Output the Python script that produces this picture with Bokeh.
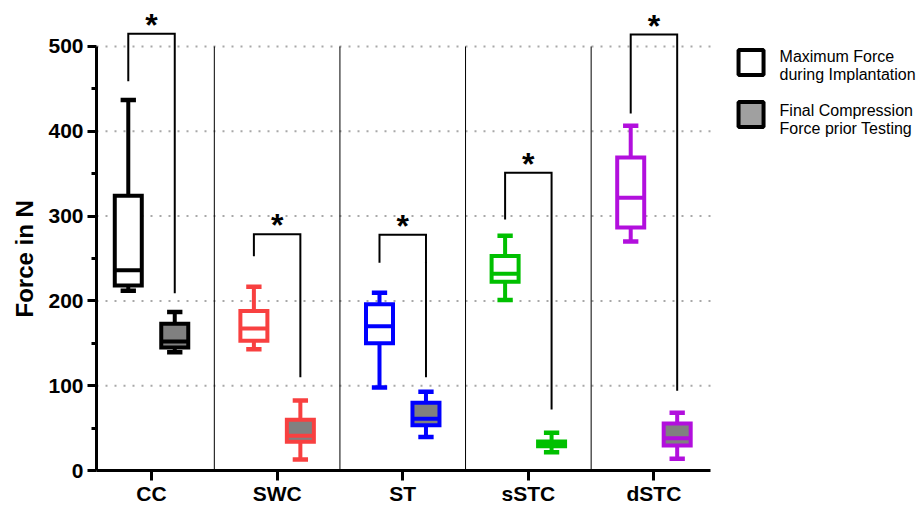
import numpy as np
from bokeh.plotting import figure
from bokeh.models import Range1d, FixedTicker, ColumnDataSource, Title
from bokeh.core.properties import value
from bokeh.embed import file_html
from bokeh.resources import INLINE

# ---------------- data ----------------
categories = ["CC", "SWC", "ST", "sSTC", "dSTC"]
colors = ["#000000", "#F84040", "#0000FF", "#00C000", "#B20FDD"]

# Maximum Force during Implantation
max_low = [212, 143, 98, 201, 270]
max_q1 = [218, 153, 150, 222.5, 286.6]
max_med = [236, 167.5, 170, 232, 321.6]
max_q3 = [324, 188, 196, 253, 369]
max_high = [437, 216.6, 209.5, 276.7, 406.4]

# Final Compression Force prior Testing
fin_low = [139.5, 13, 39.6, 21.6, 13.8]
fin_q1 = [145, 33.8, 53.5, 28.7, 29.5]
fin_med = [152, 41, 61, 31.4, 38]
fin_q3 = [173, 59.8, 80, 34.2, 55.4]
fin_high = [187, 82.5, 92.8, 44.4, 68]

# significance brackets
bracket_top = [515, 278.7, 278, 351, 514]
bracket_left_end = [459, 252.7, 245, 296, 421]
bracket_right_end = [209, 110, 110, 72, 94]
sig_labels = ["*", "*", "*", "*", "*"]

y_ticks = [0, 100, 200, 300, 400, 500]
y_minor = [50, 150, 250, 350, 450]
legend_labels = [["Maximum Force", "during Implantation"],
                 ["Final Compression", "Force prior Testing"]]

FONT = "Liberation Sans"
X0, X1 = -0.438, 6.138
pos = np.arange(len(categories), dtype=float)
OFF = 0.185
HW = 0.1075
CW = 0.061
LW = 4

p = figure(width=922, height=507, x_range=Range1d(X0, X1), y_range=Range1d(0, 554.2),
           output_backend="svg", toolbar_location=None,
           min_border_left=96, min_border_right=0, min_border_top=0, min_border_bottom=37)
p.outline_line_color = None
p.xgrid.visible = False
p.ygrid.visible = False
p.background_fill_color = "white"

# dotted grid
gy = y_ticks[1:]
p.segment(x0=[X0] * len(gy), y0=gy, x1=[4.5] * len(gy), y1=gy,
          line_color="#a8a8a8", line_width=2, line_dash="2 7")

# separators between groups
sep = list(pos[:-1] + 0.5)
p.segment(x0=sep, y0=[0] * len(sep), x1=sep, y1=[500] * len(sep),
          line_color="black", line_width=1)


def draw(xc, low, q1, med, q3, high, fill):
    src = ColumnDataSource(dict(x=xc, low=low, q1=q1, med=med, q3=q3, high=high,
                                l=xc - HW, r=xc + HW, cl=xc - CW, cr=xc + CW, c=colors))
    p.segment(x0="x", y0="q3", x1="x", y1="high", line_color="c", line_width=LW, source=src)
    p.segment(x0="x", y0="q1", x1="x", y1="low", line_color="c", line_width=LW, source=src)
    p.segment(x0="cl", y0="high", x1="cr", y1="high", line_color="c", line_width=4.5, source=src)
    p.segment(x0="cl", y0="low", x1="cr", y1="low", line_color="c", line_width=4.5, source=src)
    p.quad(left="l", right="r", top="q3", bottom="q1", fill_color=fill, line_color="c",
           line_width=LW, line_join="miter", source=src)
    p.segment(x0="l", y0="med", x1="r", y1="med", line_color="c", line_width=LW, source=src)


draw(pos - OFF, max_low, max_q1, max_med, max_q3, max_high, "white")
draw(pos + OFF, fin_low, fin_q1, fin_med, fin_q3, fin_high, "#808080")

# brackets
xs, ys = [], []
for i in range(len(categories)):
    xs.append([pos[i] - OFF, pos[i] - OFF, pos[i] + OFF, pos[i] + OFF])
    ys.append([bracket_left_end[i], bracket_top[i], bracket_top[i], bracket_right_end[i]])
p.multi_line(xs=xs, ys=ys, line_color="black", line_width=2, line_join="miter")
p.text(x=list(pos), y=bracket_top, text=sig_labels, text_font=value(FONT),
       text_font_style="bold", text_font_size="32px", text_align="center",
       text_baseline="alphabetic", y_offset=-9, text_color="black")

# legend
p.rect(x=[4.773, 4.773], y=[481, 419.8], width=25, height=25, width_units="screen",
       height_units="screen", fill_color=["white", "#a0a0a0"], line_color="black", line_width=4)
lx = [5.0] * 4
ly = [487.7, 466.9, 424.5, 403.3]
p.text(x=lx, y=ly, text=[legend_labels[0][0], legend_labels[0][1], legend_labels[1][0], legend_labels[1][1]],
       text_font=value(FONT), text_font_size="16px", text_baseline="alphabetic", text_align="left",
       text_color="black")

# axes
ya = p.yaxis[0]
ya.ticker = FixedTicker(ticks=y_ticks, minor_ticks=y_minor)
ya.bounds = (0, 500)
ya.axis_line_width = 3
ya.major_tick_line_width = 3
ya.minor_tick_line_width = 3
ya.major_tick_out = 9
ya.major_tick_in = 0
ya.minor_tick_out = 5
ya.minor_tick_in = 0
ya.major_label_text_font = FONT
ya.major_label_text_font_style = "bold"
ya.major_label_text_font_size = "21px"
ya.major_label_text_color = "black"
ya.major_label_standoff = 4

xa = p.xaxis[0]
xa.ticker = FixedTicker(ticks=list(pos), minor_ticks=[])
xa.major_label_overrides = {int(i): c for i, c in enumerate(categories)}
xa.bounds = (X0, 4.45)
xa.axis_line_width = 3
xa.major_tick_line_width = 3
xa.major_tick_out = 10
xa.major_tick_in = 0
xa.minor_tick_out = 0
xa.major_label_text_font = FONT
xa.major_label_text_font_style = "bold"
xa.major_label_text_font_size = "21px"
xa.major_label_text_color = "black"
xa.major_label_standoff = 1

p.add_layout(Title(text="Force in N", align="left", offset=153, text_font=FONT,
                   text_font_style="bold", text_font_size="24px", text_color="black",
                   standoff=15), "left")

open("out.html", "w").write(file_html(p, INLINE))
